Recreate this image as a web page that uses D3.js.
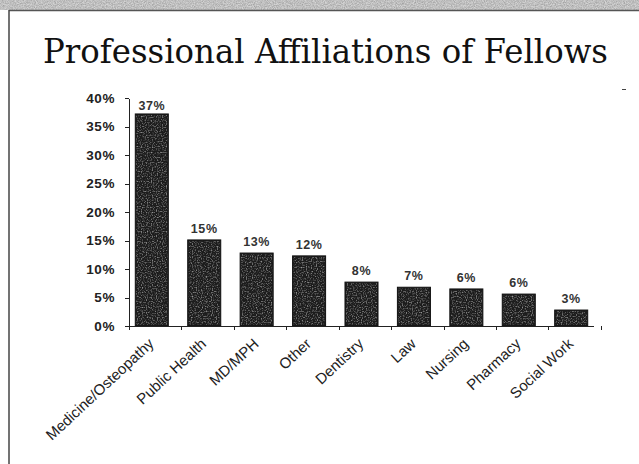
<!DOCTYPE html>
<html lang="en">
<head>
  <meta charset="UTF-8">
  <title>Professional Affiliations of Fellows</title>
  <script src="https://d3js.org/d3.v7.min.js"></script>
  <style>
    body { margin: 0; background: #fff; }
    .axis path, .axis line { fill: none; stroke: #222; shape-rendering: crispEdges; }
    .axis text { font-family: Arial, "Liberation Sans", sans-serif; font-size: 13.5px; fill: #222; }
  </style>
</head>
<body>
  <svg id="svg" width="639" height="464"></svg>
  <script>
    // data
    var categories = ['Medicine/Osteopathy', 'Public Health', 'MD/MPH', 'Other', 'Dentistry',
                      'Law', 'Nursing', 'Pharmacy', 'Social Work']
    var values = [37.2, 15.1, 12.8, 12.3, 7.7, 6.8, 6.5, 5.6, 2.8]
    var valueLabels = ['37%', '15%', '13%', '12%', '8%', '7%', '6%', '6%', '3%']
    var yTicks = [0, 5, 10, 15, 20, 25, 30, 35, 40]

    var margin = { top: 98, left: 129, right: 45, bottom: 138 }
    var width = 639, height = 464

    var svg = d3.select('#svg')

    // scanned page edge
    var noise = svg.append('defs').append('filter').attr('id', 'grain')
    noise.append('feTurbulence').attr('type', 'fractalNoise').attr('baseFrequency', 0.9).attr('numOctaves', 2).attr('seed', 3)
    noise.append('feColorMatrix').attr('type', 'matrix')
      .attr('values', '0 0 0 0 0.35  0 0 0 0 0.35  0 0 0 0 0.35  0 0 0 -1.6 1.2')
    noise.append('feComposite').attr('in2', 'SourceGraphic').attr('operator', 'in')

    svg.append('rect').attr('x', 0).attr('y', 0).attr('width', width).attr('height', 10)
      .attr('fill', '#d4d4d4')
    svg.append('rect').attr('x', 0).attr('y', 0).attr('width', width).attr('height', 10)
      .attr('fill', '#fff').attr('filter', 'url(#grain)')
    svg.append('line').attr('x1', 9).attr('x2', width).attr('y1', 10.5).attr('y2', 10.5)
      .attr('stroke', '#555').attr('stroke-width', 1.5)
    svg.append('line').attr('x1', 9).attr('x2', 9).attr('y1', 10).attr('y2', height)
      .attr('stroke', '#444').attr('stroke-width', 1.5)

    // bar texture
    var pat = svg.select('defs').append('filter').attr('id', 'speck')
    pat.append('feTurbulence').attr('type', 'fractalNoise').attr('baseFrequency', 0.8).attr('numOctaves', 1).attr('seed', 7)
    pat.append('feColorMatrix').attr('type', 'matrix')
      .attr('values', '0 0 0 0 0.5  0 0 0 0 0.5  0 0 0 0 0.5  0 0 0 -2.2 1.15')
    pat.append('feComposite').attr('in2', 'SourceGraphic').attr('operator', 'in')

    svg.append('text')
      .attr('x', 43).attr('y', 63)
      .attr('textLength', 565).attr('lengthAdjust', 'spacingAndGlyphs')
      .style('font-family', '"DejaVu Serif", "Liberation Serif", serif')
      .style('font-size', '33px')
      .attr('fill', '#111')
      .text('Professional Affiliations of Fellows')

    var x = d3.scaleBand()
      .domain(categories)
      .range([margin.left, width - margin.right])
      .paddingInner(0.37)
      .paddingOuter(0.12)

    var y = d3.scaleLinear()
      .domain([0, 40])
      .range([height - margin.bottom, margin.top])

    var g = svg.append('g')

    g.selectAll('rect.bar')
      .data(values)
      .enter()
      .append('rect')
      .attr('class', 'bar')
      .attr('x', (d, i) => x(categories[i]))
      .attr('y', d => y(d))
      .attr('width', x.bandwidth())
      .attr('height', d => y(0) - y(d))
      .attr('fill', '#1c1c1c')
      .attr('stroke', '#111')

    g.selectAll('rect.tex')
      .data(values)
      .enter()
      .append('rect')
      .attr('class', 'tex')
      .attr('x', (d, i) => x(categories[i]) + 1)
      .attr('y', d => y(d) + 1)
      .attr('width', x.bandwidth() - 2)
      .attr('height', d => y(0) - y(d) - 2)
      .attr('fill', '#fff')
      .attr('filter', 'url(#speck)')

    g.selectAll('text.val')
      .data(values)
      .enter()
      .append('text')
      .attr('class', 'val')
      .attr('x', (d, i) => x(categories[i]) + x.bandwidth() / 2)
      .attr('y', (d, i) => y(d) - (i === 0 ? 4 : 7))
      .attr('text-anchor', 'middle')
      .style('font-family', 'Arial, "Liberation Sans", sans-serif')
      .style('font-size', '12.5px')
      .style('font-weight', 'bold')
      .style('letter-spacing', '0.6px')
      .attr('fill', '#333')
      .text((d, i) => valueLabels[i])

    // y axis
    var yAxis = d3.axisLeft(y)
      .tickValues(yTicks)
      .tickFormat(d => d + '%')
      .tickSize(4)
      .tickSizeOuter(0)
      .tickPadding(10)
    var ya = g.append('g')
      .attr('class', 'axis')
      .attr('transform', 'translate(' + margin.left + ',0)')
      .call(yAxis)
    ya.selectAll('text').style('font-weight', 'bold').style('letter-spacing', '0.6px')

    // x axis: ticks between categories
    var step = x.step()
    var bounds = d3.range(categories.length + 1)
    var xa = g.append('g').attr('class', 'axis')
    xa.append('line')
      .attr('x1', margin.left).attr('x2', width - margin.right)
      .attr('y1', y(0) + 0.5).attr('y2', y(0) + 0.5)
    xa.selectAll('line.tick')
      .data(bounds)
      .enter()
      .append('line')
      .attr('class', 'tick')
      .attr('x1', d => margin.left + d * step + 0.5)
      .attr('x2', d => margin.left + d * step + 0.5)
      .attr('y1', y(0)).attr('y2', y(0) + 4)

    g.selectAll('text.cat')
      .data(categories)
      .enter()
      .append('text')
      .attr('class', 'cat')
      .attr('transform', d => 'translate(' + (x(d) + x.bandwidth() / 2 + 3) + ',' + (y(0) + 19) + ') rotate(-43)')
      .attr('text-anchor', 'end')
      .style('font-family', 'Arial, "Liberation Sans", sans-serif')
      .style('font-size', '15px')
      .attr('fill', '#222')
      .text(d => d)

    // stray scan mark
    svg.append('line').attr('x1', 622).attr('x2', 626).attr('y1', 89.5).attr('y2', 89.5)
      .attr('stroke', '#444')
  </script>
</body>
</html>
